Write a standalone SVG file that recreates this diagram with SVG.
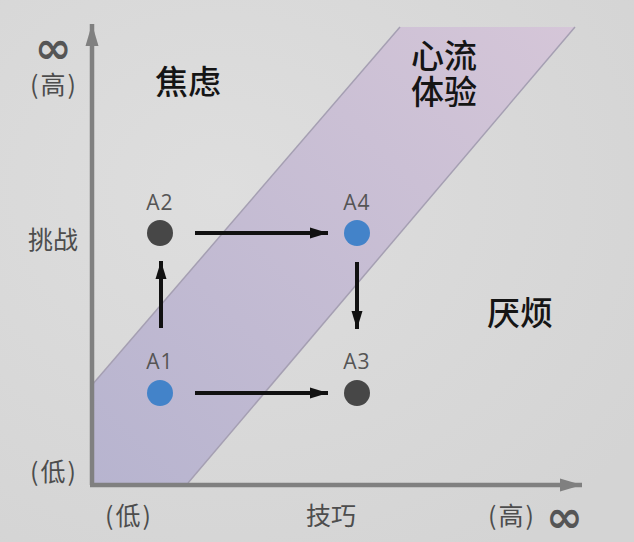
<svg xmlns="http://www.w3.org/2000/svg" width="634" height="542" viewBox="0 0 634 542">
<defs>
<radialGradient id="bg" cx="0.35" cy="0.35" r="0.8">
<stop offset="0" stop-color="#dedede"/>
<stop offset="1" stop-color="#d4d4d4"/>
</radialGradient>
<linearGradient id="band" x1="0" y1="1" x2="1" y2="0">
<stop offset="0" stop-color="#b7b4cf"/>
<stop offset="1" stop-color="#d5c6d8"/>
</linearGradient>
<marker id="ah" markerUnits="userSpaceOnUse" markerWidth="20" markerHeight="14" refX="18" refY="7" orient="auto">
<path d="M0,1.5 L18,7 L0,12.5 Z" fill="#111"/>
</marker>
<marker id="axh" markerUnits="userSpaceOnUse" markerWidth="24" markerHeight="16" refX="22" refY="8" orient="auto">
<path d="M0,1.5 L22,8 L0,14.5 Z" fill="#808080"/>
</marker>
</defs>
<style>
.cjk{font-family:"Noto Sans CJK SC","Noto Sans",sans-serif;}
.main{font-size:33px;font-weight:500;fill:#151515;text-anchor:middle;}
.ax{font-size:25px;fill:#4d4d4d;text-anchor:middle;}
.par{letter-spacing:2px;}
.inf{font-family:"DejaVu Sans",sans-serif;font-weight:bold;font-size:44px;fill:#555;}
.lab{font-family:"Open Sans","Liberation Sans",sans-serif;font-size:21px;letter-spacing:1px;fill:#555;text-anchor:middle;}
.conn{stroke:#111;stroke-width:4;fill:none;marker-end:url(#ah);}
.dark{fill:#474747;}
.blue{fill:#4383c9;}
</style>
<rect width="634" height="542" fill="url(#bg)"/>
<g id="flow-band">
<polygon points="400,27 575,27 188,483 92,483 92,385" fill="url(#band)" stroke="none"/>
<line x1="400" y1="27" x2="92" y2="385" stroke="#a59fb2" stroke-width="1.5"/>
<line x1="575" y1="27" x2="188" y2="483" stroke="#a59fb2" stroke-width="1.5"/>
</g>
<g id="axes">
<line x1="92" y1="485" x2="92" y2="24" stroke="#808080" stroke-width="4.5" marker-end="url(#axh)"/>
<line x1="90" y1="485" x2="582" y2="485" stroke="#808080" stroke-width="4.5" marker-end="url(#axh)"/>
</g>
<g id="axis-labels" class="cjk">
<text class="ax" x="53" y="64"><tspan class="inf" x="53" y="63">∞</tspan><tspan class="par" x="54" y="94">(高)</tspan></text>
<text class="ax" x="53" y="249">挑战</text>
<text class="ax par" x="54" y="481">(低)</text>
<text class="ax par" x="129" y="525">(低)</text>
<text class="ax" x="331" y="525">技巧</text>
<text class="ax" x="536" y="525" style="text-anchor:end"><tspan class="par">(高)</tspan><tspan class="inf" x="546" y="532" style="text-anchor:start">∞</tspan></text>
</g>
<g id="zone-anxiety" class="cjk"><text class="main" x="188" y="94">焦虑</text></g>
<g id="zone-flow" class="cjk"><text class="main" x="444" y="68"><tspan x="444" y="68">心流</tspan><tspan x="444" y="104">体验</tspan></text></g>
<g id="zone-boredom" class="cjk"><text class="main" x="520" y="325">厌烦</text></g>
<g id="connectors">
<line class="conn" x1="195" y1="233" x2="328" y2="233"/>
<line class="conn" x1="195" y1="393" x2="328" y2="393"/>
<line class="conn" x1="161" y1="328" x2="161" y2="261"/>
<line class="conn" x1="357" y1="262" x2="357" y2="329"/>
</g>
<g id="A1"><text class="lab" x="160" y="369">A1</text><circle class="blue" cx="160" cy="393" r="13"/></g>
<g id="A2"><text class="lab" x="160" y="210">A2</text><circle class="dark" cx="160" cy="233" r="13"/></g>
<g id="A3"><text class="lab" x="357" y="369">A3</text><circle class="dark" cx="357" cy="393" r="13"/></g>
<g id="A4"><text class="lab" x="357" y="210">A4</text><circle class="blue" cx="357" cy="233" r="13"/></g>
</svg>
